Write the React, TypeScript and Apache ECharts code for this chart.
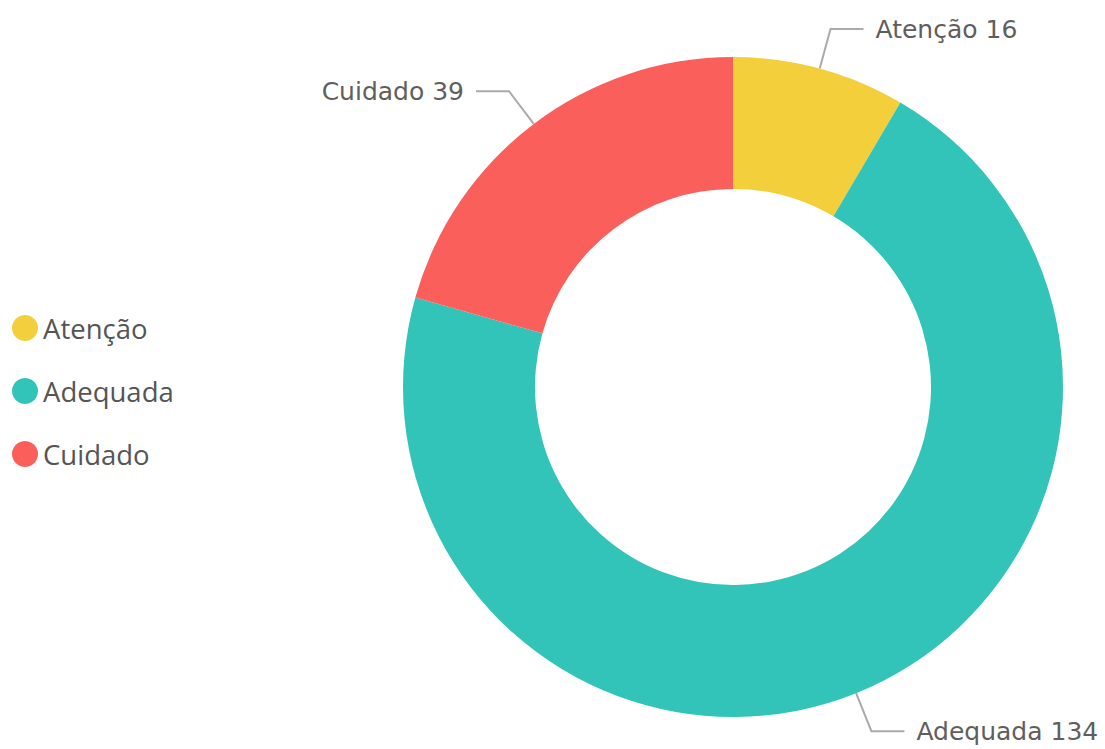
import React, { useEffect, useRef } from "react";
import * as echarts from "echarts";

const categories = ["Atenção", "Adequada", "Cuidado"];
const values = [16, 134, 39];
const colors = ["#F3CF3C", "#33C4B9", "#FB5F5C"];

export default function App() {
  const ref = useRef<HTMLDivElement>(null);
  useEffect(() => {
    const chart = echarts.init(ref.current!, null, { renderer: "svg" });
    chart.setOption({
      animation: false,
      legend: {
        orient: "vertical",
        left: 7,
        top: 309,
        icon: "circle",
        itemWidth: 26,
        itemHeight: 26,
        itemGap: 35,
        data: categories,
        textStyle: { fontFamily: "Open Sans", fontSize: 27.5, lineHeight: 26, color: "#555" },
      },
      series: [
        {
          type: "pie",
          center: [733, 387],
          radius: [198, 330],
          startAngle: 90,
          clockwise: true,
          avoidLabelOverlap: false,
          data: categories.map((c, i) => ({
            name: c,
            value: values[i],
            itemStyle: { color: colors[i] },
          })),
          label: {
            show: true,
            position: "outside",
            formatter: "{b} {c}",
            fontFamily: "DejaVu Sans",
            fontSize: 25,
            color: "#605E5C",
            distanceToLabelLine: 12,
          },
          labelLine: {
            show: true,
            length: 41,
            length2: 33,
            lineStyle: { color: "#AAA", width: 2 },
          },
        },
      ],
    });
    return () => chart.dispose();
  }, []);
  return (
    <div
      ref={ref}
      style={{ position: "fixed", left: 0, top: 0, width: 1105, height: 749, background: "#fff" }}
    />
  );
}
